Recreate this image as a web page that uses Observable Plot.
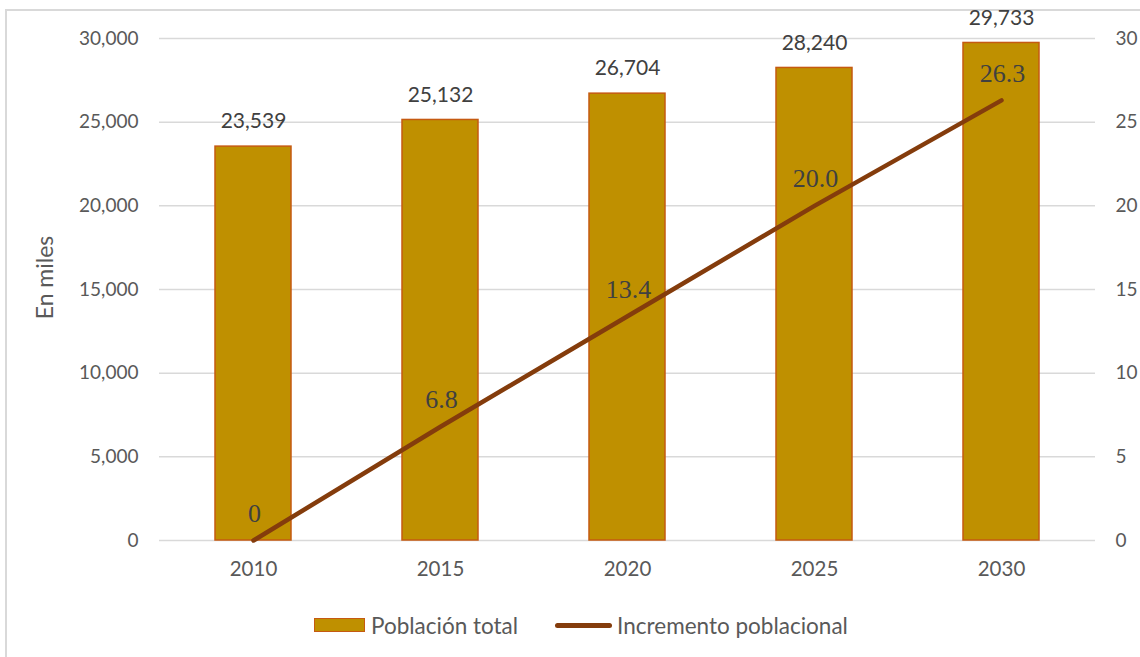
<!DOCTYPE html>
<html>
<head>
<meta charset="utf-8">
<script src="https://cdn.jsdelivr.net/npm/d3@7"></script>
<script src="https://cdn.jsdelivr.net/npm/@observablehq/plot@0.6"></script>
<style>
  body { margin: 0; overflow: hidden; background: #fff; font-family: Lato, "Noto Sans", sans-serif; }
  #frame { position: absolute; left: 5px; top: 9px; width: 2000px; height: 2000px;
           border-left: 2px solid #d9d9d9; border-top: 2px solid #d9d9d9; pointer-events: none; }
  #chart { position: relative; width: 1140px; }
  .legend { display: flex; align-items: center; height: 50px; padding-left: 314px;
            font-size: 22.5px; color: #595959; }
  .sw-bar { width: 49px; height: 12px; background: #BF9000; border: 1.5px solid #C55A11; margin-right: 6px; }
  .sw-line { width: 57px; height: 5px; background: #843C0C; border-radius: 3px; margin-right: 5px; margin-left: 37px; }
</style>
</head>
<body>
<div id="frame"></div>
<div id="chart"></div>
<script>
const years = ["2010", "2015", "2020", "2025", "2030"];
const poblacion = [23539, 25132, 26704, 28240, 29733];
const incremento = [0, 6.8, 13.4, 20.0, 26.3];
const incrementoLabels = ["0", "6.8", "13.4", "20.0", "26.3"];
const leftTicks = [0, 5000, 10000, 15000, 20000, 25000, 30000];
const rightTicks = [0, 5, 10, 15, 20, 25, 30];
const rightToLeft = 1000; // right axis 0–30 shares the left 0–30,000 scale

const data = years.map((y, i) => ({
  year: y, pob: poblacion[i], inc: incremento[i], incLabel: incrementoLabels[i]
}));

const fmt = d3.format(",");

const chart = Plot.plot({
  width: 1140,
  height: 600,
  marginTop: 38,
  marginBottom: 60,
  marginLeft: 159,
  marginRight: 45,
  style: { fontFamily: "Lato, 'Noto Sans', sans-serif", fontSize: "19px", color: "#595959", background: "transparent" },
  x: { type: "band", domain: years, paddingInner: 0.594, paddingOuter: 0.297 },
  y: { domain: [0, 30000] },
  marks: [
    Plot.ruleY(leftTicks, { stroke: "#d9d9d9", strokeWidth: 1.5 }),
    Plot.barY(data, { x: "year", y: "pob", fill: "#BF9000", stroke: "#C55A11", strokeWidth: 1.5 }),
    Plot.line(data, { x: "year", y: d => d.inc * rightToLeft, stroke: "#843C0C", strokeWidth: 4.5, strokeLinecap: "round" }),
    Plot.text(data, { x: "year", y: "pob", text: d => fmt(d.pob), dy: -25, fontSize: 21, fill: "#404040" }),
    Plot.text(data, { x: "year", y: d => d.inc * rightToLeft, text: "incLabel", dy: -27, dx: 1,
                      fontFamily: "'Liberation Serif', 'Times New Roman', serif", fontSize: 26, fill: "#404040" }),
    Plot.axisY({ anchor: "left", ticks: leftTicks, tickFormat: fmt, tickSize: 0, tickPadding: 21, label: null, fill: "#595959" }),
    Plot.axisY({ anchor: "right", ticks: rightTicks.map(v => v * rightToLeft), tickFormat: d => String(d / rightToLeft),
                 tickSize: 0, tickPadding: 20, label: null, fill: "#595959" }),
    Plot.axisX({ tickSize: 0, tickPadding: 21, label: null, fill: "#595959", fontSize: 20.5 }),
    Plot.text(["En miles"], { frameAnchor: "left", dx: -114, dy: -12, rotate: -90, textAnchor: "middle",
                              fontSize: 23, fill: "#595959" })
  ]
});

const root = document.getElementById("chart");
root.appendChild(chart);

const legend = document.createElement("div");
legend.className = "legend";
legend.innerHTML = '<div class="sw-bar"></div><span>Población total</span><div class="sw-line"></div><span>Incremento poblacional</span>';
root.appendChild(legend);
</script>
</body>
</html>
